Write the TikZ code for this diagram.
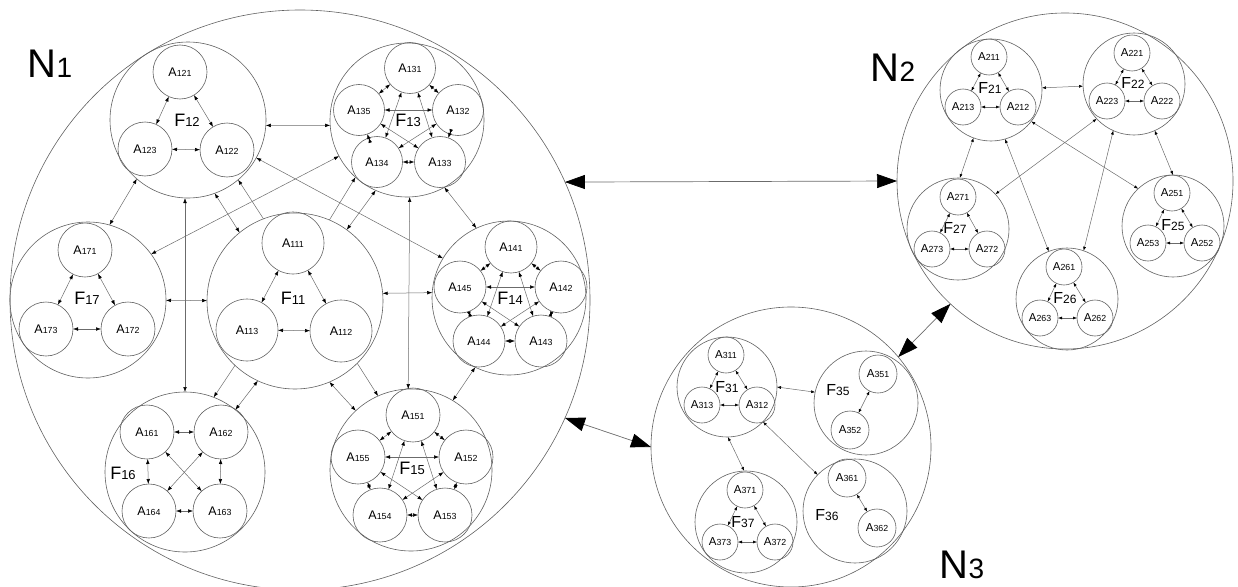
\documentclass[tikz,border=0pt]{standalone}
\usepackage{fontspec}
\setmainfont{Liberation Sans}
\usetikzlibrary{arrows.meta}
\definecolor{cline}{gray}{0.38}
\definecolor{aline}{gray}{0.42}
\newcommand\Aa[1]{{\fontsize{12.5}{12.5}\selectfont A}{\fontsize{8.8}{8.8}\selectfont #1}}
\newcommand\Ab[1]{{\fontsize{11.5}{11.5}\selectfont A}{\fontsize{8.8}{8.8}\selectfont #1}}
\newcommand\Fa[1]{{\fontsize{18}{18}\selectfont F}{\fontsize{13}{13}\selectfont #1}}
\newcommand\Fb[1]{{\fontsize{16}{16}\selectfont F}{\fontsize{12}{12}\selectfont #1}}
\newcommand\Nl[1]{{\fontsize{40}{40}\selectfont N}{\fontsize{28}{28}\selectfont #1}}
\begin{document}
\begin{tikzpicture}[x=1pt,y=-1pt,
  circ/.style={circle,draw=cline,line width=0.6pt,inner sep=0pt,outer sep=0pt,minimum size=#1},
  lab/.style={inner sep=0pt},
  conn/.style={draw=aline,line width=0.5pt,{Latex[length=5pt,width=3.6pt,color=black]}-{Latex[length=5pt,width=3.6pt,color=black]}},
  conns/.style={draw=aline,line width=0.5pt,{Latex[length=4pt,width=3pt,color=black]}-{Latex[length=4pt,width=3pt,color=black]}},
  one/.style={draw=aline,line width=0.5pt,-{Latex[length=5pt,width=3.6pt,color=black]}},
  big/.style={draw=aline,line width=0.7pt,{Triangle[length=20pt,width=14pt,color=black]}-{Triangle[length=20pt,width=14pt,color=black]}}
]
\useasboundingbox (0,0) rectangle (1238,586);
% top-level circles
\node[circ=580pt] (N1) at (300,300) {};
\node[circ=336pt] (N2) at (1065,181) {};
\node[circ=280pt] (N3) at (791,447) {};
\node[lab] (NL1) at (50,64) {\Nl{1}};
\node[lab] (NL2) at (893,68) {\Nl{2}};
\node[lab] (NL3) at (962,565) {\Nl{3}};
% N1 groups
\node[circ=176pt] (F11) at (295,301) {};
\node[circ=156pt] (F12) at (188,120) {};
\node[circ=154pt] (F13) at (407,120) {};
\node[circ=154pt] (F14) at (509,298) {};
\node[circ=162pt] (F15) at (411,470) {};
\node[circ=160pt] (F16) at (185,472) {};
\node[circ=156pt] (F17) at (88,300) {};
\node[lab] (L11) at (293,298) {\Fa{11}};
\node[lab] (L12) at (187,120) {\Fa{12}};
\node[lab] (L13) at (408,120) {\Fa{13}};
\node[lab] (L14) at (510,298) {\Fa{14}};
\node[lab] (L15) at (412,468) {\Fa{15}};
\node[lab] (L16) at (123,473) {\Fa{16}};
\node[lab] (L17) at (87,298) {\Fa{17}};
% F11
\node[circ=62pt] (A111) at (293,243) {\Aa{111}};
\node[circ=62pt] (A112) at (341,331) {\Aa{112}};
\node[circ=62pt] (A113) at (247,330) {\Aa{113}};
% F12
\node[circ=54pt] (A121) at (180,72) {\Aa{121}};
\node[circ=54pt] (A122) at (227,150) {\Aa{122}};
\node[circ=54pt] (A123) at (145,149) {\Aa{123}};
% F13
\node[circ=51pt] (A131) at (410,68) {\Aa{131}};
\node[circ=51pt] (A132) at (458,110) {\Aa{132}};
\node[circ=51pt] (A133) at (440,162) {\Aa{133}};
\node[circ=51pt] (A134) at (377,162) {\Aa{134}};
\node[circ=51pt] (A135) at (359,110) {\Aa{135}};
% F14
\node[circ=52pt] (A141) at (511,247) {\Aa{141}};
\node[circ=52pt] (A142) at (561,287) {\Aa{142}};
\node[circ=52pt] (A143) at (541,341) {\Aa{143}};
\node[circ=52pt] (A144) at (479,341) {\Aa{144}};
\node[circ=52pt] (A145) at (460,287) {\Aa{145}};
% F15
\node[circ=54pt] (A151) at (413,415) {\Aa{151}};
\node[circ=54pt] (A152) at (466,457) {\Aa{152}};
\node[circ=54pt] (A153) at (445,515) {\Aa{153}};
\node[circ=54pt] (A154) at (380,515) {\Aa{154}};
\node[circ=54pt] (A155) at (358,457) {\Aa{155}};
% F16
\node[circ=54pt] (A161) at (147,432) {\Aa{161}};
\node[circ=54pt] (A162) at (221,432) {\Aa{162}};
\node[circ=54pt] (A163) at (220,511) {\Aa{163}};
\node[circ=54pt] (A164) at (149,511) {\Aa{164}};
% F17
\node[circ=54pt] (A171) at (85,250) {\Aa{171}};
\node[circ=54pt] (A172) at (128,329) {\Aa{172}};
\node[circ=54pt] (A173) at (46,329) {\Aa{173}};
% N2 groups
\node[circ=102pt] (F21) at (991,90) {};
\node[circ=102pt] (F22) at (1134,84) {};
\node[circ=102pt] (F27) at (958,229) {};
\node[circ=102pt] (F26) at (1067,299) {};
\node[circ=102pt] (F25) at (1173,226) {};
\node[lab] (L21) at (990,88) {\Fb{21}};
\node[lab] (L22) at (1133,83) {\Fb{22}};
\node[lab] (L27) at (955,228) {\Fb{27}};
\node[lab] (L26) at (1065,298) {\Fb{26}};
\node[lab] (L25) at (1173,225) {\Fb{25}};
\node[circ=36pt] (A211) at (989,57) {\Ab{211}};
\node[circ=36pt] (A212) at (1018,107) {\Ab{212}};
\node[circ=36pt] (A213) at (963,107) {\Ab{213}};
\node[circ=36pt] (A221) at (1132,53) {\Ab{221}};
\node[circ=36pt] (A222) at (1162,101) {\Ab{222}};
\node[circ=36pt] (A223) at (1107,101) {\Ab{223}};
\node[circ=36pt] (A271) at (958,197) {\Ab{271}};
\node[circ=36pt] (A272) at (987,249) {\Ab{272}};
\node[circ=36pt] (A273) at (932,249) {\Ab{273}};
\node[circ=36pt] (A261) at (1064,267) {\Ab{261}};
\node[circ=36pt] (A262) at (1095,318) {\Ab{262}};
\node[circ=36pt] (A263) at (1040,318) {\Ab{263}};
\node[circ=36pt] (A251) at (1172,193) {\Ab{251}};
\node[circ=36pt] (A252) at (1202,243) {\Ab{252}};
\node[circ=36pt] (A253) at (1148,243) {\Ab{253}};
% N3 groups
\node[circ=100pt] (F31) at (727,387) {};
\node[circ=104pt] (F35) at (866,403) {};
\node[circ=104pt] (F36) at (855,511) {};
\node[circ=102pt] (F37) at (746,522) {};
\node[lab] (L31) at (727,387) {\Fb{31}};
\node[lab] (L35) at (838,390) {\Fb{35}};
\node[lab] (L36) at (827,515) {\Fb{36}};
\node[lab] (L37) at (743,522) {\Fb{37}};
\node[circ=36pt] (A311) at (726,355) {\Ab{311}};
\node[circ=36pt] (A312) at (757,405) {\Ab{312}};
\node[circ=36pt] (A313) at (702,405) {\Ab{313}};
\node[circ=38pt] (A351) at (878,374) {\Ab{351}};
\node[circ=38pt] (A352) at (850,430) {\Ab{352}};
\node[circ=38pt] (A361) at (847,478) {\Ab{361}};
\node[circ=38pt] (A362) at (877,528) {\Ab{362}};
\node[circ=36pt] (A371) at (745,490) {\Ab{371}};
\node[circ=36pt] (A372) at (775,542) {\Ab{372}};
\node[circ=36pt] (A373) at (720,542) {\Ab{373}};
% intra-group arrows
\foreach \g in {11,12,17}{
  \foreach \i/\j in {1/2,1/3,2/3} \draw[conn] (A\g\i) -- (A\g\j);
}
\foreach \g in {13,14,15}{
  \foreach \i/\j in {1/2,1/3,1/4,1/5,2/3,2/4,2/5,3/4,3/5,4/5} \draw[conn] (A\g\i) -- (A\g\j);
}
\foreach \i/\j in {1/2,1/3,1/4,2/3,2/4,3/4} \draw[conn] (A16\i) -- (A16\j);
\foreach \g in {21,22,25,26,27,31,37}{
  \foreach \i/\j in {1/2,1/3,2/3} \draw[conns] (A\g\i) -- (A\g\j);
}
\draw[conns] (A351) -- (A352);
\draw[conns] (A361) -- (A362);
% N1 group-level arrows
\draw[conn] (F12.-4) -- (F13.184);
\draw[conn] (F12.-131) -- (F17.74);
\draw[conn] (F12.-70) -- (F11.129);
\draw[one] (F11.111) -- (F12.-50);
\draw[conn] (F12.south -| F16.north) -- (F16.north);
\draw[conn] (F12.-29) -- (F14.149);
\draw[conn] (F13.208) -- (F17.36);
\draw[one] (F11.67) -- (F13.228);
\draw[conn] (F11.54) -- (F13.246);
\draw[conn] (F13.-88) -- (F15.92);
\draw[conn] (F13.-61) -- (F14.115);
\draw[conn] (F17) -- (F11);
\draw[conn] (F11.5) -- (F14.176);
\draw[one] (F11.227) -- (F16.69);
\draw[conn] (F11.245) -- (F16.51);
\draw[one] (F11.-45) -- (F15.114);
\draw[conn] (F11.-67) -- (F15.133);
\draw[conn] (F15.59) -- (F14.244);
% N2 group-level arrows
\draw[conns] (F21) -- (F22);
\draw[conns] (F21.250) -- (F27.88);
\draw[conns] (F21.-74) -- (F26.111);
\draw[conns] (F21.-38) -- (F25.133);
\draw[conns] (F22.223) -- (F27.43);
\draw[conns] (F22.-114) -- (F26.71);
\draw[conns] (F22.-66) -- (F25.90);
% N3 group-level arrows
\draw[conns] (F31.0) -- (F35.168);
\draw[conns] (F31.-89) -- (F37.92);
\draw[conns] (F31) -- (F36);
% top-level arrows
\draw[big] (N1.24) -- (N2.180);
\draw[big] (N1.-24) -- (N3.180);
\draw[big] (N2.227) -- (N3.40);
\end{tikzpicture}
\end{document}
